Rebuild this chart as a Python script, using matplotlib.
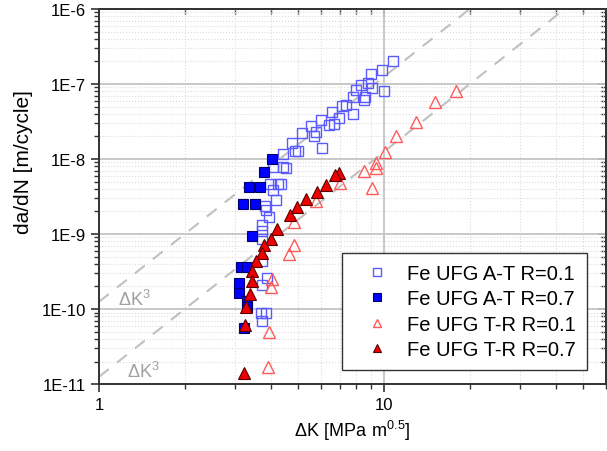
import matplotlib
matplotlib.use('Agg')
import matplotlib.pyplot as plt
from matplotlib.ticker import LogLocator, FixedLocator, FuncFormatter, NullFormatter
import numpy as np

plt.rcParams['font.family'] = ['Liberation Sans', 'DejaVu Sans']

# Fe UFG, A-T orientation, R=0.1 (open squares)
at_r01_dk = [10.75, 9.84, 9.01, 8.79, 8.31, 9.08, 10.0, 7.98, 7.79, 8.58, 8.51, 7.36,
             7.13, 7.79, 6.58, 6.96, 6.02, 5.56, 6.42, 6.69, 5.78, 5.69, 5.17, 4.77,
             4.88, 5.00, 6.07, 4.44, 4.09, 4.44, 4.54, 3.99, 4.26, 4.36, 4.09, 4.19,
             3.84, 3.87, 3.96, 3.74, 3.74, 3.74, 3.74, 3.90, 3.74, 3.69, 3.87, 3.74]
at_r01_dadn = [2.03e-7, 1.54e-7, 1.36e-7, 1.03e-7, 9.7e-8, 8.85e-8, 8.07e-8, 8.3e-8,
               6.7e-8, 6.7e-8, 6.1e-8, 5.25e-8, 5.09e-8, 3.98e-8, 4.24e-8, 3.52e-8,
               3.31e-8, 2.75e-8, 2.84e-8, 2.93e-8, 2.29e-8, 2.03e-8, 2.22e-8, 1.63e-8,
               1.28e-8, 1.28e-8, 1.40e-8, 1.17e-8, 7.8e-9, 7.8e-9, 7.6e-9, 4.64e-9,
               4.64e-9, 4.64e-9, 3.86e-9, 2.84e-9, 2.36e-9, 2.09e-9, 1.69e-9, 1.32e-9,
               1.10e-9, 8.6e-10, 4.37e-10, 2.59e-10, 2.09e-10, 8.85e-11, 8.85e-11, 6.9e-11]

# Fe UFG, A-T orientation, R=0.7 (filled squares)
at_r07_dk = [4.06, 3.80, 3.35, 3.68, 3.21, 3.54, 3.43, 3.14, 3.32, 3.09, 3.09, 3.32, 3.32, 3.24]
at_r07_dadn = [1.0e-8, 6.7e-9, 4.2e-9, 4.2e-9, 2.5e-9, 2.5e-9, 9.4e-10, 3.6e-10, 3.6e-10,
               2.2e-10, 1.63e-10, 1.28e-10, 1.06e-10, 5.6e-11]

# Fe UFG, T-R orientation, R=0.1 (open triangles)
tr_r01_dk = [17.85, 15.08, 12.94, 11.01, 10.08, 9.38, 9.38, 8.51, 9.08, 7.02, 5.78,
             4.85, 4.85, 4.65, 4.06, 4.03, 3.96, 3.93]
tr_r01_dadn = [8.07e-8, 5.75e-8, 3.11e-8, 2.03e-8, 1.24e-8, 8.85e-9, 7.6e-9, 6.9e-9,
               4.1e-9, 4.79e-9, 2.75e-9, 1.45e-9, 7.1e-10, 5.4e-10, 2.51e-10, 1.97e-10,
               4.9e-11, 1.69e-11]

# Fe UFG, T-R orientation, R=0.7 (filled triangles)
tr_r07_dk = [6.96, 6.74, 6.27, 5.83, 5.34, 4.96, 4.69, 4.22, 4.03, 3.78, 3.72, 3.57,
             3.45, 3.43, 3.40, 3.29, 3.26, 3.24]
tr_r07_dadn = [6.5e-9, 6.1e-9, 4.5e-9, 3.63e-9, 2.93e-9, 2.29e-9, 1.79e-9, 1.17e-9,
               8.6e-10, 7.1e-10, 5.6e-10, 4.37e-10, 3.21e-10, 2.36e-10, 1.58e-10,
               1.06e-10, 6.1e-11, 1.40e-11]

# slope-3 guide lines: da/dN = C * dK^3
guide_coeffs = [1.25e-10, 1.25e-11]
guide_labels = [r'$\mathregular{\Delta K^3}$', r'$\mathregular{\Delta K^3}$']
guide_label_pos = [(1.33, 1.36e-10), (1.43, 1.5e-11)]

x_major = [1, 10]
y_major = [1e-11, 1e-10, 1e-9, 1e-8, 1e-7, 1e-6]

fig = plt.figure(figsize=(6.07, 4.52), dpi=100)
ax = fig.add_axes([0.163, 0.148, 0.835, 0.830])
ax.set_xscale('log')
ax.set_yscale('log')
ax.set_xlim(1, 60)
ax.set_ylim(1e-11, 1e-6)

# grid
ax.grid(True, which='major', color='#c4c4c4', linestyle='-', linewidth=1.3, zorder=0)
ax.grid(True, which='minor', color='#dcdcdc', linestyle=':', linewidth=0.8, zorder=0)
ax.set_axisbelow(True)

dk_line = np.array([1.0, 60.0])
for c in guide_coeffs:
    ax.plot(dk_line, c * dk_line ** 3, color='#c0c0c0', linestyle=(0, (6, 5)),
            linewidth=1.5, zorder=1)
for (tx, ty), lab in zip(guide_label_pos, guide_labels):
    ax.text(tx, ty, lab, color='#a0a0a0', fontsize=13, ha='center', va='center', zorder=1)

ax.plot(at_r01_dk, at_r01_dadn, linestyle='none', marker='s', markersize=6.5,
        markerfacecolor='none', markeredgecolor='#5a5aff', markeredgewidth=1.0,
        label='Fe UFG A-T R=0.1', zorder=3)
ax.plot(at_r07_dk, at_r07_dadn, linestyle='none', marker='s', markersize=6.5,
        markerfacecolor='#0000ff', markeredgecolor='#00006a', markeredgewidth=0.8,
        label='Fe UFG A-T R=0.7', zorder=4)
ax.plot(tr_r01_dk, tr_r01_dadn, linestyle='none', marker='^', markersize=8,
        markerfacecolor='none', markeredgecolor='#ff5a5a', markeredgewidth=1.0,
        label='Fe UFG T-R R=0.1', zorder=3)
ax.plot(tr_r07_dk, tr_r07_dadn, linestyle='none', marker='^', markersize=8,
        markerfacecolor='#ee0000', markeredgecolor='#5a0000', markeredgewidth=0.8,
        label='Fe UFG T-R R=0.7', zorder=5)

# ticks: outward on bottom/left, inward on top/right
x_minor = LogLocator(base=10, subs=np.arange(2, 10))
y_minor = LogLocator(base=10, subs=np.arange(2, 10), numticks=20)
ax.xaxis.set_major_locator(FixedLocator(x_major))
ax.xaxis.set_minor_locator(x_minor)
ax.yaxis.set_major_locator(FixedLocator(y_major))
ax.yaxis.set_minor_locator(y_minor)
ax.xaxis.set_major_formatter(FuncFormatter(lambda v, p: f'{v:g}'))
ax.xaxis.set_minor_formatter(NullFormatter())
ax.yaxis.set_major_formatter(FuncFormatter(lambda v, p: f'1E{int(round(np.log10(v)))}'))
ax.yaxis.set_minor_formatter(NullFormatter())
ax.tick_params(which='both', direction='out', top=False, right=False,
               colors='#333333', labelcolor='black', labelsize=12)
ax.tick_params(which='major', length=6, width=1.2)
ax.tick_params(which='minor', length=3.5, width=1.0)

ax_top = ax.secondary_xaxis('top')
ax_top.xaxis.set_major_locator(FixedLocator(x_major))
ax_top.xaxis.set_minor_locator(x_minor)
ax_right = ax.secondary_yaxis('right')
ax_right.yaxis.set_major_locator(FixedLocator(y_major))
ax_right.yaxis.set_minor_locator(y_minor)
for sec, axis in ((ax_top, ax_top.xaxis), (ax_right, ax_right.yaxis)):
    sec.tick_params(which='both', direction='in', labeltop=False, labelright=False,
                    colors='#333333')
    sec.tick_params(which='major', length=6, width=1.2)
    sec.tick_params(which='minor', length=3.5, width=1.0)
    axis.set_major_formatter(NullFormatter())
    axis.set_minor_formatter(NullFormatter())
    for s in sec.spines.values():
        s.set_color('#333333')
        s.set_linewidth(1.4)

for s in ax.spines.values():
    s.set_color('#333333')
    s.set_linewidth(1.4)

ax.set_xlabel(r'$\mathregular{\Delta K\ [MPa\ m^{0.5}]}$', fontsize=13, labelpad=4)
ax.set_ylabel('da/dN [m/cycle]', fontsize=15)
ax.yaxis.set_label_coords(-0.13, 0.595)

leg = ax.legend(loc='lower left', bbox_to_anchor=(0.479, 0.037), fontsize=14.5,
                frameon=True, fancybox=False, edgecolor='#333333', framealpha=1,
                handlelength=2.4, handletextpad=0.3, borderpad=0.55, labelspacing=0.32,
                markerscale=0.8, borderaxespad=0)
leg.get_frame().set_linewidth(1.0)

fig.savefig('out.png', dpi=100)
